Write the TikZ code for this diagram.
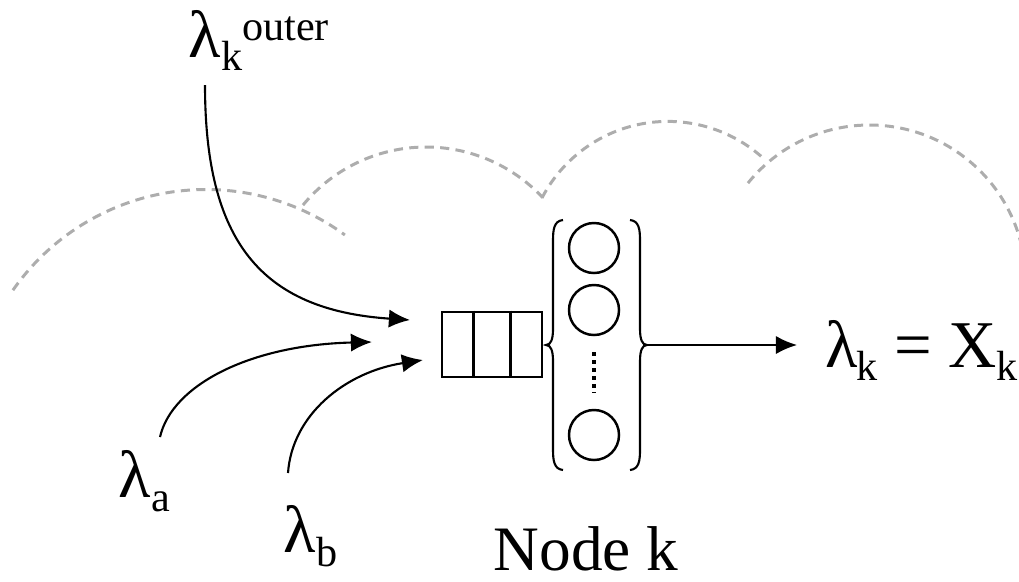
\documentclass[tikz,border=0pt]{standalone}
\usepackage{fontspec}
\setmainfont{Liberation Serif}
\usetikzlibrary{arrows.meta}
\newcommand{\mysub}[2][-3.8pt]{\raisebox{#1}{\fontsize{12}{12}\selectfont #2}}
\begin{document}
\begin{tikzpicture}[x=0.01cm,y=0.01cm,
  cloudline/.style={draw=black!32, line width=0.85pt, dash pattern=on 2.6pt off 1.8pt},
  flow/.style={draw=black, line width=0.6pt, -{Latex[length=6pt,width=5.2pt]}},
  queuebox/.style={draw=black, line width=0.8pt, minimum width=1cm, minimum height=0.65cm, inner sep=0pt},
  server/.style={draw=black, line width=0.7pt, circle, minimum size=0.5cm, inner sep=0pt},
  bracepath/.style={draw=black, line width=0.6pt},
  lab/.style={anchor=base west, inner sep=0pt, font=\fontsize{19}{19}\selectfont}
]
\useasboundingbox (0,0) rectangle (1019,581);

% dashed cloud arcs
\draw[cloudline] (205.9,156.2) ++(145.1:235.3) arc[start angle=145.1, end angle=53.8, radius=235.3];
\draw[cloudline] (426.1,274.4) ++(140.5:159.6) arc[start angle=140.5, end angle=43.1, radius=159.6];
\draw[cloudline] (667.9,317.7) ++(152.6:141.9) arc[start angle=152.6, end angle=47.9, radius=141.9];
\draw[cloudline] (869.5,299.8) ++(141.1:156.2) arc[start angle=141.1, end angle=15, radius=156.2];

% queue
\node[queuebox] (q) at (492,236.5) {};
\draw[line width=0.8pt] ([xshift=0.333cm]q.north west) -- ([xshift=0.333cm]q.south west);
\draw[line width=0.8pt] ([xshift=-0.333cm]q.north east) -- ([xshift=-0.333cm]q.south east);

% servers
\node[server] (c1) at (594,333) {};
\node[server] (c2) at (594,271) {};
\node[server] (c3) at (594,146) {};
\coordinate (d1) at (594,229);
\coordinate (d2) at (594,188);
\draw[line width=1.3pt, dash pattern=on 1.1pt off 1.2pt] (d1) -- (d2);

% braces
\coordinate (lb) at (546,236);
\coordinate (rb) at (647,236);
\draw[bracepath] (563,361) .. controls (554,360) and (553,352) .. (553,340) -- (553,252)
  .. controls (553,242) and (551,236) .. (lb) .. controls (551,236) and (553,230) .. (553,220)
  -- (553,132) .. controls (553,120) and (554,112) .. (563,111);
\draw[bracepath] (630,361) .. controls (639,360) and (640,352) .. (640,340) -- (640,252)
  .. controls (640,242) and (642,236) .. (rb) .. controls (642,236) and (640,230) .. (640,220)
  -- (640,132) .. controls (640,120) and (639,112) .. (630,111);

% labels
\node[lab] (outer) at (188,524) {λ\mysub{k}\mysub[4.8pt]{outer}};
\node[lab] (la) at (118,84) {λ\mysub[-4.2pt]{a}};
\node[lab] (lb2) at (283,29) {λ\mysub[-4.2pt]{b}};
\node[lab] (res) at (825,214) {λ\kern-0.5pt\mysub{k} = X\mysub{k}};
\node[anchor=base west, inner sep=0pt, font=\fontsize{18}{18}\selectfont] (nk) at (493,11) {Node k};

% arrows
\coordinate (s1) at (205,496);
\coordinate (t1) at (410,261);
\coordinate (s2) at (160,144);
\coordinate (t2) at (372,239);
\coordinate (s3) at (288,108);
\coordinate (t3) at (423,221);
\coordinate (out) at (797,236);
\draw[flow] (s1) .. controls (205,341) and (260,271) .. (t1);
\draw[flow] (s2) .. controls (172,196) and (250,236) .. (t2);
\draw[flow] (s3) .. controls (292,166) and (345,209) .. (t3);
\draw[flow] (rb) -- (out);
\end{tikzpicture}
\end{document}
